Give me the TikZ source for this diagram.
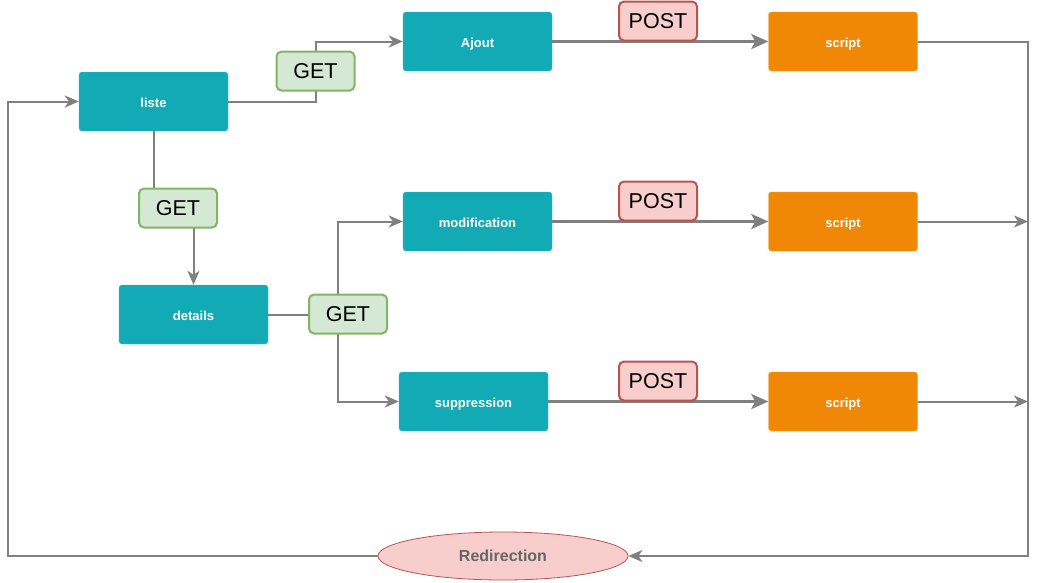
\documentclass[tikz,border=0pt]{standalone}
\usepackage{fontspec}
\setmainfont{Liberation Sans}
\usetikzlibrary{arrows.meta,shapes.geometric}
\definecolor{teal1}{HTML}{12AAB5}
\definecolor{orange1}{HTML}{F08705}
\definecolor{getfill}{HTML}{D5E8D4}
\definecolor{getdraw}{HTML}{82B366}
\definecolor{postfill}{HTML}{F8CECC}
\definecolor{postdraw}{HTML}{B85450}
\definecolor{linegray}{HTML}{808080}
\definecolor{redtext}{HTML}{666666}
\tikzset{
  x=1pt, y=-1pt,
  box/.style={rectangle, rounded corners=3pt, minimum width=149pt, minimum height=59pt, inner sep=0pt, text=white, text height=11pt, text depth=0pt, font=\fontsize{13}{15}\selectfont\bfseries},
  tealbox/.style={box, fill=teal1, draw=teal1!80!white},
  orangebox/.style={box, fill=orange1, draw=orange1!80!white},
  getlbl/.style={rectangle, rounded corners=5pt, fill=getfill, draw=getdraw, line width=2pt, minimum width=78pt, minimum height=39pt, inner sep=0pt, font=\fontsize{21.5}{24}\selectfont},
  postlbl/.style={rectangle, rounded corners=5pt, fill=postfill, draw=postdraw, line width=2pt, minimum width=78pt, minimum height=39pt, inner sep=0pt, font=\fontsize{21.5}{24}\selectfont},
  conn/.style={draw=linegray, line width=2pt, -{Stealth[length=14pt,width=12pt,inset=4pt]}},
  thickconn/.style={draw=linegray, line width=3.4pt, -{Stealth[length=17pt,width=15pt,inset=4pt]}},
}
\begin{document}
\begin{tikzpicture}
\useasboundingbox (0,0) rectangle (1037,582);
% nodes
\node[tealbox] (liste) at (153.5,101.5) {liste};
\node[tealbox] (ajout) at (477.5,41.5) {Ajout};
\node[orangebox] (s1) at (843,41.5) {script};
\node[tealbox] (modif) at (477.5,221.5) {modification};
\node[orangebox] (s2) at (843,221.5) {script};
\node[tealbox] (details) at (193.5,314.5) {details};
\node[tealbox] (suppr) at (473.5,401.5) {suppression};
\node[orangebox] (s3) at (843,401.5) {script};
\node[ellipse, fill=postfill, draw=postdraw, line width=0.8pt, minimum width=250pt, minimum height=48pt, inner sep=0pt, text=redtext, font=\fontsize{16}{18}\selectfont\bfseries] (redir) at (503,556) {Redirection};
\coordinate (e2) at (1028,221.5);
\coordinate (e3) at (1028,401.5);

% connectors
\draw[conn] (liste.east) -- (315.5,101.5) -- (315.5,41.5) -- (ajout.west);
\draw[conn] (liste.south) -- (153.5,208) -- (193.5,208) -- (details.north);
\draw[conn] (details.east) -- (338,314.5) -- (338,221.5) -- (modif.west);
\draw[conn] (details.east) -- (338,314.5) -- (338,401.5) -- (suppr.west);
\draw[thickconn] (ajout.east) -- (s1.west);
\draw[thickconn] (modif.east) -- (s2.west);
\draw[thickconn] (suppr.east) -- (s3.west);
\draw[conn] (s1.east) -- (1028,41.5) -- (1028,556) -- (redir.east);
\draw[conn] (s2.east) -- (e2);
\draw[conn] (s3.east) -- (e3);
\draw[conn] (redir.west) -- (8,556) -- (8,101.5) -- (liste.west);

% labels
\node[getlbl] (g1) at (315.5,71) {GET};
\node[getlbl] (g2) at (178,208) {GET};
\node[getlbl] (g3) at (348,314) {GET};
\node[postlbl] (p1) at (658,21) {POST};
\node[postlbl] (p2) at (658,201) {POST};
\node[postlbl] (p3) at (658,381) {POST};
\end{tikzpicture}
\end{document}
